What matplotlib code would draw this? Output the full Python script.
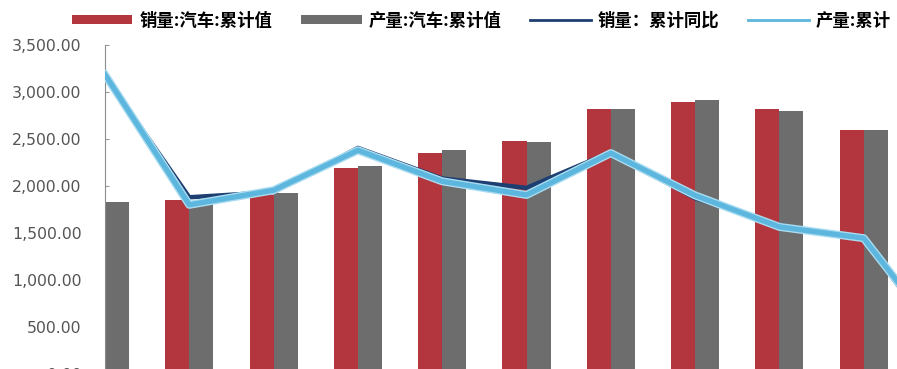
import matplotlib
matplotlib.use("Agg")
import matplotlib.pyplot as plt
import matplotlib.patheffects as pe
from matplotlib.patches import Patch
from matplotlib.lines import Line2D
from matplotlib.ticker import FuncFormatter, MultipleLocator

plt.rcParams['font.family'] = ['Noto Sans CJK SC', 'DejaVu Sans']

# Bar groups (x labels are cropped out of the picture)
groups = list(range(10))
sales_cum = [1800, 1850, 1905, 2195, 2350, 2480, 2815, 2895, 2820, 2595]
prod_cum = [1830, 1830, 1930, 2210, 2380, 2465, 2820, 2915, 2800, 2595]

# The lines run one point past the last group (cut off at the right edge)
line_x = list(range(11))
sales_yoy = [3170, 1880, 1935, 2405, 2080, 1980, 2360, 1870, 1585, 1430, 240]
prod_cum_line = [3185, 1800, 1955, 2380, 2050, 1905, 2350, 1900, 1565, 1445, 290]

legend_labels = ["销量:汽车:累计值", "产量:汽车:累计值", "销量：累计同比", "产量:累计"]

RED = "#b3363e"
GRAY = "#6d6d6d"
NAVY = "#1c3e70"
SKY = "#5cb6de"

fig = plt.figure(figsize=(8.97, 3.69), dpi=100)
# axes reaches past the bottom and right edges, the original is a crop
ax = fig.add_axes([105 / 897, -5 / 369, 1 - 105 / 897, 329 / 369])

w = 0.285
ax.bar([g - w / 2 for g in groups], sales_cum, width=w, color=RED, zorder=2)
ax.bar([g + w / 2 for g in groups], prod_cum, width=w, color=GRAY, zorder=2)

ax.plot(line_x, sales_yoy, color=NAVY, lw=3.2, zorder=3)
ax.plot(line_x, prod_cum_line, color=SKY, lw=3.8, zorder=4,
        path_effects=[pe.Stroke(linewidth=5.8, foreground="#aadcf0"), pe.Normal()])

ax.set_xlim(0, 792 / 84.3)
ax.set_ylim(0, 3500)
ax.yaxis.set_major_locator(MultipleLocator(500))
ax.yaxis.set_major_formatter(FuncFormatter(lambda v, p: f"{v:,.2f}"))
ax.tick_params(axis='y', direction='in', length=3, color="#999999",
               labelsize=11.3, labelcolor="#555555", pad=17)
for lab in ax.get_yticklabels():
    lab.set_family('DejaVu Sans')
ax.set_xticks([])
for s in ['top', 'right', 'bottom']:
    ax.spines[s].set_visible(False)
ax.spines['left'].set_color("#8c8c8c")

# Legend:
handles = [Patch(facecolor=RED), Patch(facecolor=GRAY),
           Line2D([], [], color=NAVY, lw=2), Line2D([], [], color=SKY, lw=2)]
fig.legend(handles, legend_labels, loc='center left', bbox_to_anchor=(56 / 897, 0.944),
           ncol=4, frameon=False, handlelength=3.5, handleheight=0.4,
           handletextpad=0.4, columnspacing=1.65,
           prop={'family': ['Noto Sans CJK SC'], 'weight': 'bold', 'size': 12.5})

fig.savefig("out.png", dpi=100)
